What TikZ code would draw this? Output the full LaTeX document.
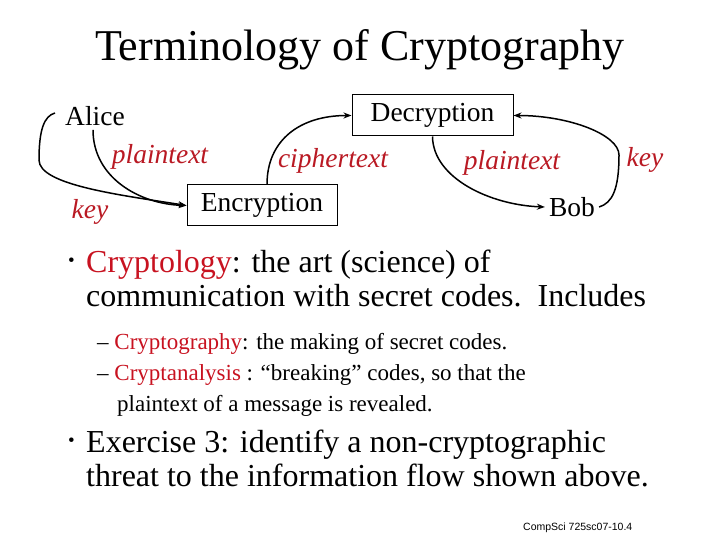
\documentclass[tikz,border=0pt]{standalone}
\usepackage{fontspec}
\setmainfont{Liberation Serif}
\setsansfont{Liberation Sans}
\usetikzlibrary{arrows.meta}
\definecolor{termred}{RGB}{200,18,32}
\definecolor{labelred}{RGB}{185,25,35}
\tikzset{
  box/.style={draw,line width=1pt,inner sep=0pt,minimum width=161pt,minimum height=41pt},
  party/.style={inner sep=4pt,font=\fontsize{27.5}{29}\selectfont},
  flowlabel/.style={text=labelred,font=\fontsize{27.5}{29}\selectfont\itshape},
  flow/.style={line width=1.5pt,-{Stealth[length=8pt,width=6pt]}},
  bigline/.style={anchor=base west,inner sep=0pt,font=\fontsize{32}{34}\selectfont},
  smallline/.style={anchor=base west,inner sep=0pt,font=\fontsize{23}{25}\selectfont},
}
\begin{document}
\begin{tikzpicture}[x=1pt,y=-1pt]
  \useasboundingbox (0,0) rectangle (720,540);
  \node[anchor=base,inner sep=0pt] (title) at (360,61) {\fontsize{44}{46}\selectfont Terminology of Cryptography};
  % the flow diagram
  \node[party] (alice) at (95,116) {Alice};
  \node[party] (bob) at (572,207) {Bob};
  \node[box,font=\fontsize{27.5}{29}\selectfont] (dec) at (432.5,115.5) {Decryption};
  \node[box,minimum width=150pt,font=\fontsize{27.5}{29}\selectfont] (enc) at (262,205.5) {Encryption};
  \node[flowlabel] (ptA) at (160,157) {plaintext};
  \node[flowlabel] (ctext) at (333,161) {ciphertext};
  \node[flowlabel] (ptB) at (512,163) {plaintext};
  \node[flowlabel] (keyA) at (90,212) {key};
  \node[flowlabel] (keyB) at (645,160) {key};
  \coordinate (keystart) at (55,113);
  \coordinate (keyturn) at (619,155);
  \draw[flow] ([xshift=-2pt]alice.south) .. controls (93,178) and (140,204) .. (enc.west);
  \draw[flow] (keystart) .. controls (44,116) and (39,130) .. (39,160)
    .. controls (39,185) and (120,195) .. (enc.west);
  \draw[flow] ([xshift=5pt]enc.north) .. controls (267,140) and (300,115.5) .. (dec.west);
  \draw[flow] (dec.south) .. controls (433,178) and (490,205) .. (bob.west);
  \draw[flow] (bob.east) .. controls (612,203) and (619,190) .. (keyturn)
    .. controls (619,135) and (570,115.5) .. (dec.east);
  % the text
  \node[bigline,font=\fontsize{19}{20}\selectfont] (dotA) at (68,266) {\textbullet};
  \node[bigline] (lineA) at (86,272) {\textcolor{termred}{Cryptology}: the art (science) of};
  \node[bigline] (lineB) at (86,306) {communication with secret codes.\ \ Includes};
  \node[smallline] (subA) at (97,349) {–\ \textcolor{termred}{Cryptography}: the making of secret codes.};
  \node[smallline] (subB) at (97,380) {–\ \textcolor{termred}{Cryptanalysis} : “breaking” codes, so that the};
  \node[smallline] (subC) at (117,411) {plaintext of a message is revealed.};
  \node[bigline,font=\fontsize{19}{20}\selectfont] (dotB) at (68,446) {\textbullet};
  \node[bigline] (lineC) at (86,452) {Exercise 3: identify a non-cryptographic};
  \node[bigline] (lineD) at (86,486) {threat to the information flow shown above.};
  \node[anchor=base west,inner sep=0pt,font=\sffamily\fontsize{10.5}{11}\selectfont] (foot) at (523,530) {CompSci 725sc07-10.4};
\end{tikzpicture}
\end{document}
